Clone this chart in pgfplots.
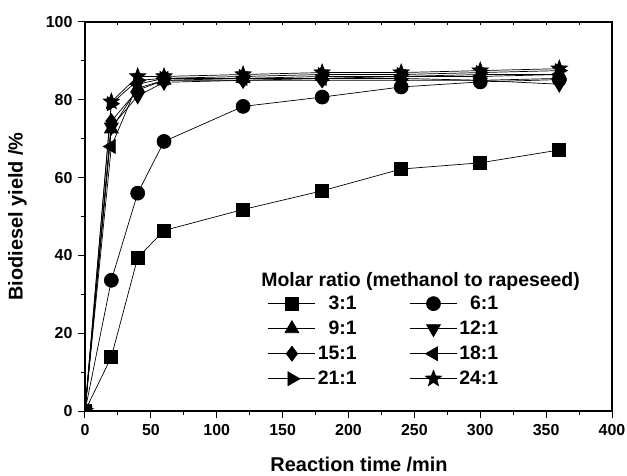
\documentclass[border=0pt]{standalone}
\usepackage{fontspec}
\setmainfont{Liberation Sans}
\usepackage{pgfplots}
\pgfplotsset{compat=1.18}

% filled five-pointed star
\pgfdeclareplotmark{fstar}{%
  \pgfpathmoveto{\pgfpointpolar{90}{\pgfplotmarksize}}%
  \pgfpathlineto{\pgfpointpolar{126}{0.42\pgfplotmarksize}}%
  \pgfpathlineto{\pgfpointpolar{162}{\pgfplotmarksize}}%
  \pgfpathlineto{\pgfpointpolar{198}{0.42\pgfplotmarksize}}%
  \pgfpathlineto{\pgfpointpolar{234}{\pgfplotmarksize}}%
  \pgfpathlineto{\pgfpointpolar{270}{0.42\pgfplotmarksize}}%
  \pgfpathlineto{\pgfpointpolar{306}{\pgfplotmarksize}}%
  \pgfpathlineto{\pgfpointpolar{342}{0.42\pgfplotmarksize}}%
  \pgfpathlineto{\pgfpointpolar{18}{\pgfplotmarksize}}%
  \pgfpathlineto{\pgfpointpolar{54}{0.42\pgfplotmarksize}}%
  \pgfpathclose
  \pgfusepathqfillstroke}

\begin{document}
\begin{tikzpicture}
\begin{axis}[
  at={(0,0)}, anchor=south west,
  width=527bp, height=389bp, scale only axis,
  xmin=0, xmax=400, ymin=0, ymax=100,
  xtick={0,50,100,150,200,250,300,350,400},
  xticklabels={0,50,100,150,200,250,300,350,400},
  minor xtick={25,75,...,375},
  ytick={0,20,40,60,80,100},
  yticklabels={0,20,40,60,80,100},
  minor ytick={10,30,...,90},
  xtick pos=bottom, ytick pos=left, tick align=outside,
  major tick length=7bp, minor tick length=4bp,
  axis line style={line width=1.2bp},
  tick style={line width=1bp, black},
  every tick label/.append style={font=\fontsize{16}{18}\selectfont\bfseries},
  xticklabel style={yshift=-3bp},
  yticklabel style={xshift=-2bp},
  xlabel={Reaction time /min},
  ylabel={Biodiesel yield /\%},
  label style={font=\fontsize{20}{24}\selectfont\bfseries},
  xlabel style={at={(axis description cs:0.52,-0.155)}, anchor=base},
  ylabel style={at={(axis description cs:-0.104,0.5)}, anchor=south},
  clip marker paths=true,
  every axis plot/.append style={black, line width=0.7bp},
  legend columns=2,
  legend cell align=right,
  legend style={at={(rel axis cs:0.347,0.301)}, anchor=north west,
    draw=none, fill=none, inner sep=0pt, row sep=6bp,
    font=\fontsize{19.5}{22}\selectfont\bfseries,
    /tikz/every even column/.append style={column sep=51bp}},
  legend image code/.code={\draw[mark repeat=2,mark phase=2]
    plot coordinates {(0bp,0bp) (23.5bp,0bp) (47bp,0bp)};},
]
\addplot[mark=square*, mark size=6.5bp, mark options={fill=black}] coordinates {
  (0,0) (20,13.9) (40,39.4) (60,46.4) (120,51.8) (180,56.6) (240,62.2) (300,63.8) (360,67.1)};
\addlegendentry{3:1}
\addplot[mark=*, mark size=7bp, mark options={fill=black}] coordinates {
  (0,0) (20,33.6) (40,56.0) (60,69.3) (120,78.3) (180,80.7) (240,83.3) (300,84.6) (360,85.2)};
\addlegendentry{6:1}
\addplot[mark=triangle*, mark size=8bp, mark options={fill=black}] coordinates {
  (0,0) (20,72.5) (40,83.0) (60,85.0) (120,85.5) (180,86.0) (240,86.0) (300,86.5) (360,86.5)};
\addlegendentry{9:1}
\addplot[mark=triangle*, mark size=8bp, mark options={fill=black, rotate=180}] coordinates {
  (0,0) (20,73.0) (40,81.0) (60,84.5) (120,85.0) (180,85.5) (240,85.5) (300,85.0) (360,84.0)};
\addlegendentry{12:1}
\addplot[mark=diamond*, mark size=7.5bp, mark options={fill=black}] coordinates {
  (0,0) (20,74.5) (40,82.5) (60,85.0) (120,85.0) (180,85.0) (240,85.0) (300,85.0) (360,85.5)};
\addlegendentry{15:1}
\addplot[mark=triangle*, mark size=8bp, mark options={fill=black, rotate=90}] coordinates {
  (0,0) (20,68.0) (40,84.0) (60,85.5) (120,85.5) (180,85.5) (240,86.0) (300,86.0) (360,86.5)};
\addlegendentry{18:1}
\addplot[mark=triangle*, mark size=8bp, mark options={fill=black, rotate=-90}] coordinates {
  (0,0) (20,79.0) (40,85.0) (60,85.5) (120,86.0) (180,86.5) (240,86.5) (300,87.0) (360,87.5)};
\addlegendentry{21:1}
\addplot[mark=fstar, mark size=8.5bp, mark options={fill=black}] coordinates {
  (0,0) (20,79.5) (40,86.0) (60,86.0) (120,86.5) (180,87.0) (240,87.0) (300,87.5) (360,88.0)};
\addlegendentry{24:1}
\node[anchor=base west, font=\fontsize{19.5}{22}\selectfont\bfseries]
  at (rel axis cs:0.328,0.319) {Molar ratio (methanol to rapeseed)};
\end{axis}
% inward minor ticks along the top edge
\begin{axis}[
  at={(0,0)}, anchor=south west,
  width=527bp, height=389bp, scale only axis,
  xmin=0, xmax=400, ymin=0, ymax=100,
  axis x line*=top, axis y line=none,
  axis line style={line width=1.2bp, -},
  xtick={0,25,...,400}, xticklabels={},
  tick align=inside, major tick length=3.5bp,
  tick style={line width=1bp, black},
]
\end{axis}
\pgfresetboundingbox
\path[use as bounding box] (-85bp,-65bp) rectangle (542bp,411bp);
\end{tikzpicture}
\end{document}
